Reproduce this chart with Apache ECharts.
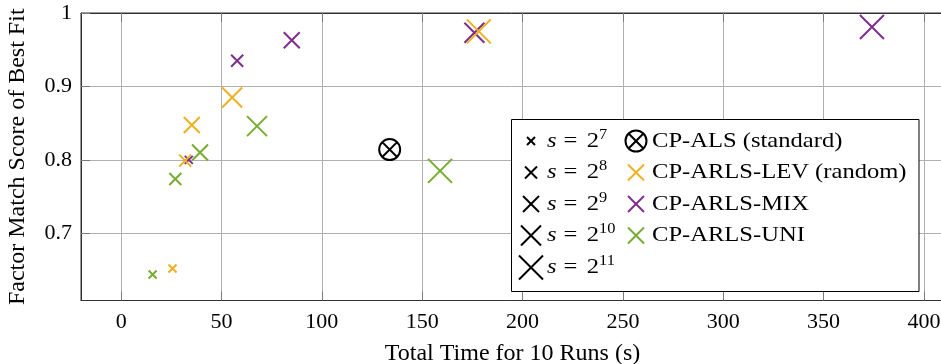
<!DOCTYPE html>
<html>
<head>
<meta charset="utf-8">
<script src="https://cdn.jsdelivr.net/npm/echarts@6/dist/echarts.min.js"></script>
<style>
  html, body { margin: 0; padding: 0; background: #fff; }
  #chart { width: 941px; height: 364px; }
</style>
</head>
<body>
<div id="chart"></div>
<script>
// Sketch size exponents: s = 2^7 ... 2^11
const sampleExponents = [7, 8, 9, 10, 11];

// CP-ARLS-LEV (random)
const levTime  = [25.6, 31.9, 35.2, 55.3, 178.2];
const levScore = [0.652, 0.799, 0.8475, 0.885, 0.975];

// CP-ARLS-MIX
const mixTime  = [33.7, 57.8, 85.0, 176.0, 374.1];
const mixScore = [0.800, 0.935, 0.963, 0.973, 0.981];

// CP-ARLS-UNI
const uniTime  = [15.7, 27.0, 39.3, 67.7, 158.9];
const uniScore = [0.644, 0.774, 0.810, 0.846, 0.785];

// CP-ALS (standard)
const alsTime  = [133.8];
const alsScore = [0.814];

// Axis ticks
const xTicks = [0, 50, 100, 150, 200, 250, 300, 350, 400];
const yTicks = [0.7, 0.8, 0.9, 1];

const methodNames = ['CP-ARLS-LEV (random)', 'CP-ARLS-MIX', 'CP-ARLS-UNI'];

const COLORS = { lev: '#EDB120', mix: '#7E2F8E', uni: '#77AC30', als: '#000000' };
const FONT = 'Liberation Serif';
const CROSS = 'path://M0,0L10,10M10,0L0,10';
const OTIMES = 'path://M0,10A10,10 0 1,0 20,10A10,10 0 1,0 0,10ZM2.93,2.93L17.07,17.07M17.07,2.93L2.93,17.07';

// marker size grows with the sketch size exponent
const markerSize = e => 8 + (e - 7) * 4;

function pairs(xs, ys) { return xs.map((x, i) => [x, ys[i]]); }

function crossSeries(name, xs, ys, color, z) {
  return {
    name: name,
    type: 'scatter',
    data: pairs(xs, ys),
    symbol: CROSS,
    symbolSize: (v, p) => markerSize(sampleExponents[p.dataIndex]),
    itemStyle: { color: 'rgba(0,0,0,0)', borderColor: color, borderWidth: 2, opacity: 1 },
    emphasis: { disabled: true },
    clip: true,
    z: z
  };
}

const chart = echarts.init(document.getElementById('chart'), null, { renderer: 'canvas' });

// ---- legend box drawn as graphic elements ----
const LX = 511.5, LY = 119.5, LW = 407.5, LH = 172;
const rowY = [141, 172.5, 204, 235.5, 267.5];
const col1X = 531, col1T = 547, col2X = 636, col2T = 652;
const LEG_FONT = 21, LEG_STRETCH = 1.17;

function crossIcon(cx, cy, size, color) {
  const h = size / 2;
  return [
    { type: 'line', shape: { x1: cx - h, y1: cy - h, x2: cx + h, y2: cy + h }, style: { stroke: color, lineWidth: 2 }, z: 101 },
    { type: 'line', shape: { x1: cx + h, y1: cy - h, x2: cx - h, y2: cy + h }, style: { stroke: color, lineWidth: 2 }, z: 101 }
  ];
}

function legendText(x, y, text, rich) {
  return {
    type: 'text', x: x, y: y, z: 101, scaleX: LEG_STRETCH,
    style: {
      text: text, font: LEG_FONT + 'px "' + FONT + '"', fill: '#000',
      verticalAlign: 'middle', align: 'left', rich: rich
    }
  };
}

const mathRich = {
  i: { fontFamily: FONT, fontSize: LEG_FONT, fontStyle: 'italic', padding: [0, 6, 0, 0] },
  eq: { fontFamily: FONT, fontSize: LEG_FONT, padding: [0, 8, 0, 0] },
  sup: { fontFamily: FONT, fontSize: 14, padding: [0, 0, 12, 0] }
};

const legendEls = [
  { type: 'rect', shape: { x: LX, y: LY, width: LW, height: LH }, style: { fill: '#fff', stroke: '#000', lineWidth: 1 }, z: 100 }
];
sampleExponents.forEach((e, i) => {
  legendEls.push(...crossIcon(col1X, rowY[i], markerSize(e), '#000'));
  legendEls.push(legendText(col1T, rowY[i], '{i|s}{eq|=}2{sup|' + e + '}', mathRich));
});
// CP-ALS symbol
const r = 10.5, d = r * 0.7071;
legendEls.push({ type: 'circle', shape: { cx: col2X, cy: rowY[0], r: r }, style: { fill: 'none', stroke: '#000', lineWidth: 2 }, z: 101 });
legendEls.push({ type: 'line', shape: { x1: col2X - d, y1: rowY[0] - d, x2: col2X + d, y2: rowY[0] + d }, style: { stroke: '#000', lineWidth: 2 }, z: 101 });
legendEls.push({ type: 'line', shape: { x1: col2X + d, y1: rowY[0] - d, x2: col2X - d, y2: rowY[0] + d }, style: { stroke: '#000', lineWidth: 2 }, z: 101 });
legendEls.push(legendText(col2T, rowY[0], 'CP-ALS (standard)'));
[COLORS.lev, COLORS.mix, COLORS.uni].forEach((c, i) => {
  legendEls.push(...crossIcon(col2X, rowY[i + 1], 16, c));
  legendEls.push(legendText(col2T, rowY[i + 1], methodNames[i]));
});

const axisText = { fontFamily: FONT, fontSize: 22, color: '#000' };

chart.setOption({
  animation: false,
  backgroundColor: '#fff',
  grid: {
    left: 81, top: 13, width: 863, height: 287.5,
    outerBoundsMode: 'none', containLabel: false,
    show: true, borderColor: '#333', borderWidth: 1, backgroundColor: 'transparent'
  },
  xAxis: [{
    type: 'value', min: -20, max: 410,
    name: 'Total Time for 10 Runs (s)', nameLocation: 'middle', nameGap: 41,
    nameTextStyle: { fontFamily: FONT, fontSize: 24, color: '#000' },
    axisLine: { show: true, onZero: false, lineStyle: { color: '#333', width: 1 } },
    axisTick: { show: true, inside: true, length: 9, customValues: xTicks, lineStyle: { color: '#7a7a7a' } },
    axisLabel: { customValues: xTicks, margin: 11, ...axisText },
    splitLine: { show: true, lineStyle: { color: '#b0b0b0', width: 1 } }
  }, {
    type: 'value', min: -20, max: 410, position: 'top',
    axisLine: { show: true, onZero: false, lineStyle: { color: '#333', width: 1 } },
    axisTick: { show: true, inside: true, length: 9, customValues: xTicks, lineStyle: { color: '#7a7a7a' } },
    axisLabel: { show: false },
    splitLine: { show: false }
  }],
  yAxis: [{
    type: 'value', min: 0.6085, max: 1,
    name: 'Factor Match Score of Best Fit', nameLocation: 'middle', nameGap: 51, nameRotate: 90,
    nameTextStyle: { fontFamily: FONT, fontSize: 24, color: '#000' },
    axisLine: { show: true, onZero: false, lineStyle: { color: '#333', width: 1 } },
    axisTick: { show: true, inside: true, length: 9, customValues: yTicks, lineStyle: { color: '#7a7a7a' } },
    axisLabel: { customValues: yTicks, margin: 9, formatter: v => String(+v.toFixed(2)), ...axisText },
    splitLine: { show: true, lineStyle: { color: '#b0b0b0', width: 1 } }
  }],
  series: [
    crossSeries('CP-ARLS-MIX', mixTime, mixScore, COLORS.mix, 2),
    crossSeries('CP-ARLS-LEV (random)', levTime, levScore, COLORS.lev, 3),
    crossSeries('CP-ARLS-UNI', uniTime, uniScore, COLORS.uni, 4),
    {
      name: 'CP-ALS (standard)',
      type: 'scatter',
      data: pairs(alsTime, alsScore),
      symbol: OTIMES,
      symbolSize: 21,
      itemStyle: { color: 'rgba(0,0,0,0)', borderColor: COLORS.als, borderWidth: 2, opacity: 1 },
      emphasis: { disabled: true },
      z: 5
    }
  ],
  graphic: { elements: legendEls }
});
</script>
</body>
</html>
